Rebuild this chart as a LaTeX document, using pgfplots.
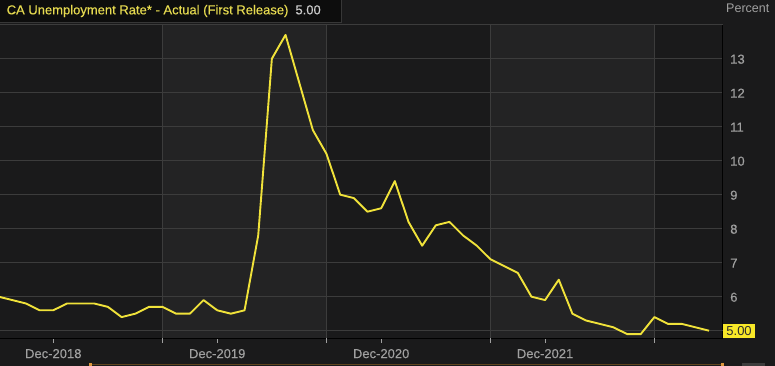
\documentclass[border=0pt]{standalone}
\usepackage{fontspec}
\setmainfont{Liberation Sans}
\newfontfamily\medfont[FakeBold=0.35]{Liberation Sans}
\usepackage{pgfplots}
\pgfplotsset{compat=1.18}
\definecolor{bgdark}{RGB}{26,26,27}
\definecolor{bglight}{RGB}{35,35,36}
\definecolor{gridc}{RGB}{60,60,60}
\definecolor{tickc}{RGB}{160,160,160}
\definecolor{linec}{RGB}{240,226,58}
\definecolor{boxy}{RGB}{248,232,40}
\definecolor{titley}{RGB}{230,218,80}
\definecolor{titlebg}{RGB}{13,13,13}
\definecolor{titleedge}{RGB}{55,55,55}
\definecolor{scrollc}{RGB}{95,68,30}
\definecolor{scrollm}{RGB}{220,150,60}

\pgfplotstableread{
m val
-4 6.0
-3 5.9
-2 5.8
-1 5.6
0 5.6
1 5.8
2 5.8
3 5.8
4 5.7
5 5.4
6 5.5
7 5.7
8 5.7
9 5.5
10 5.5
11 5.9
12 5.6
13 5.5
14 5.6
15 7.8
16 13.0
17 13.7
18 12.3
19 10.9
20 10.2
21 9.0
22 8.9
23 8.5
24 8.6
25 9.4
26 8.2
27 7.5
28 8.1
29 8.2
30 7.8
31 7.5
32 7.1
33 6.9
34 6.7
35 6.0
36 5.9
37 6.5
38 5.5
39 5.3
40 5.2
41 5.1
42 4.9
43 4.9
44 5.4
45 5.2
46 5.2
47 5.1
48 5.0
}\unemp

\begin{document}
\begin{tikzpicture}
\useasboundingbox (0pt,0pt) rectangle (775pt,366pt);
\fill[bgdark] (0pt,0pt) rectangle (775pt,366pt);
% alternating year bands behind the plot area
\fill[bglight] (162.6pt,28pt) rectangle (326.5pt,341.3pt);
\fill[bglight] (490.4pt,28pt) rectangle (654.4pt,341.3pt);
\begin{axis}[
  at={(0pt,28pt)}, anchor=south west,
  scale only axis, width=722.7pt, height=313.3pt,
  xmin=-3.9, xmax=49, ymin=4.785, ymax=14,
  clip mode=individual,
  axis x line*=bottom, axis y line*=right,
  axis line style={draw=gridc!130, -, line width=0.8pt},
  xtick={0,12,24,36},
  xticklabels={Dec-2018,Dec-2019,Dec-2020,Dec-2021},
  extra x ticks={8,20,32,44},
  extra x tick labels={},
  extra x tick style={grid=major, major grid style={gridc, line width=0.8pt}, tick style={draw=none}},
  ytick={6,...,13},
  extra y ticks={5,14},
  extra y tick labels={},
  ymajorgrids, major grid style={gridc, line width=0.8pt},
  tick align=outside, major tick length=5pt,
  x tick style={draw=tickc, line width=0.6pt},
  y tick style={draw=none},
  tick label style={font=\medfont\fontsize{13}{13}\selectfont, text=tickc},
  /pgf/number format/assume math mode=true,
  y tick label style={xshift=-1pt, yshift=-0.5pt},
  x tick label style={yshift=-2.5pt},
]
\addplot[linec, line width=1.9pt, line join=round] table[x=m, y=val] {\unemp};
\node[anchor=west, fill=boxy, text={rgb,255:red,45;green,45;blue,45}, font=\fontsize{13}{13}\selectfont,
      inner xsep=3.5pt, inner ysep=2.5pt] at (axis cs:49,5) {5.00};
\end{axis}
% title box
\draw[fill=titlebg, draw=titleedge, line width=0.8pt] (-1pt,344pt) rectangle (341pt,367pt);
\node[anchor=west, inner sep=0pt, font=\medfont\fontsize{13}{13}\selectfont] at (6.5pt,355pt)
  {\textcolor{titley}{CA Unemployment Rate* - Actual (First Release)}\hspace{7pt}\textcolor{white!80!black}{5.00}};
% unit label
\node[anchor=west, inner sep=0pt, text=tickc, font=\fontsize{12.5}{12.5}\selectfont] at (726pt,358pt) {Percent};
% scroll bar hint
\draw[scrollc, line width=1pt] (90pt,1pt) -- (722pt,1pt);
\fill[scrollm] (88.5pt,0pt) rectangle (91.5pt,3pt);
\fill[scrollm] (721pt,0pt) rectangle (724pt,3pt);
\fill[gridc] (742pt,0pt) rectangle (765pt,3pt);
\end{tikzpicture}
\end{document}
